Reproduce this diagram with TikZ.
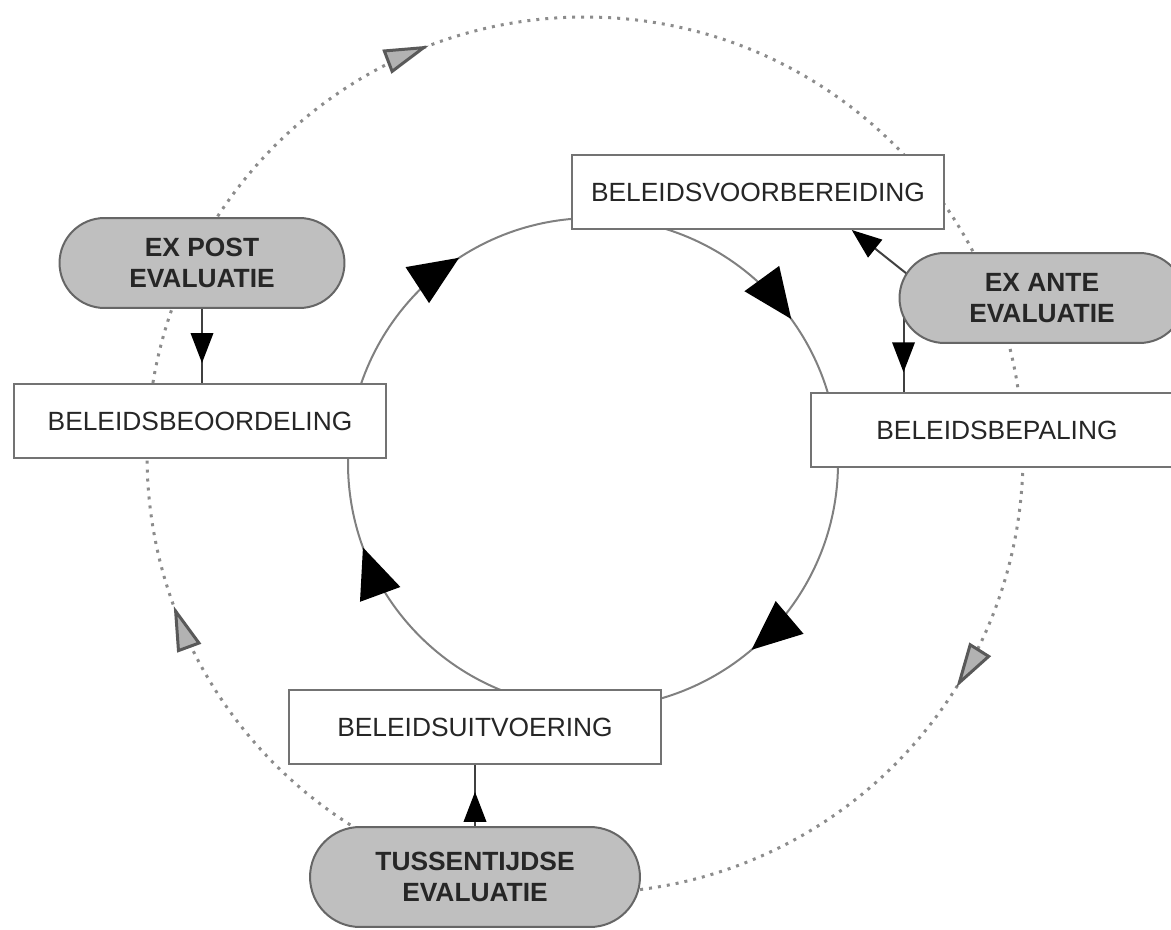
\documentclass[tikz,border=0pt]{standalone}
\usepackage{fontspec}
\setmainfont{Liberation Sans}
\usetikzlibrary{arrows.meta,decorations.markings,backgrounds,calc}

\tikzset{
  stap/.style={draw=black!55, line width=0.04cm, fill=white, text=black!85,
    minimum width=7.46cm, minimum height=1.48cm, font=\fontsize{15}{17}\selectfont},
  evaluatie/.style={draw=black!60, line width=0.04cm, fill=black!25, text=black!85,
    rounded corners=0.9cm, minimum width=5.7cm, minimum height=1.8cm, align=center,
    font=\bfseries\fontsize{15}{17.5}\selectfont},
  cyclus/.style={draw=black!50, line width=0.04cm, postaction={decorate},
    decoration={markings,
      mark=at position 0.138 with {\arrow{Triangle[length=1cm,width=0.85cm,color=black]}},
      mark=at position 0.444 with {\arrow{Triangle[length=1cm,width=0.85cm,color=black]}},
      mark=at position 0.658 with {\arrow{Triangle[length=1cm,width=0.85cm,color=black]}},
      mark=at position 0.900 with {\arrow{Triangle[length=1cm,width=0.85cm,color=black]}}}},
  buitencirkel/.style={draw=black!45, line width=0.06cm, dash pattern=on 0.06cm off 0.12cm,
    postaction={decorate},
    decoration={markings,
      mark=at position 0.089 with {\arrow{Triangle[length=0.9cm,width=0.5cm,color=black!65,fill=black!30]}},
      mark=at position 0.444 with {\arrow{Triangle[length=0.9cm,width=0.5cm,color=black!65,fill=black!30]}},
      mark=at position 0.692 with {\arrow{Triangle[length=0.9cm,width=0.5cm,color=black!65,fill=black!30]}}}},
  verbinding/.style={draw=black!75, line width=0.04cm},
  pijlmidden/.style={postaction={decorate},
    decoration={markings, mark=at position #1 with {\arrow{Triangle[length=0.6cm,width=0.45cm,color=black]}}}},
}

\begin{document}
\begin{tikzpicture}[x=0.02cm,y=0.02cm]
\useasboundingbox (0,0) rectangle (1171,-930);
\coordinate (M) at (593,-463);% midden cyclus
\coordinate (O) at (585,-455);% midden evaluatie

\node[stap] (voorb) at (758,-192) {BELEIDSVOORBEREIDING};
\node[stap] (bepal) at (997,-430) {BELEIDSBEPALING};
\node[stap] (uitv) at (475,-727) {BELEIDSUITVOERING};
\node[stap] (beoord) at (200,-421) {BELEIDSBEOORDELING};

\node[evaluatie] (exante) at (1042,-298) {EX ANTE\\EVALUATIE};
\node[evaluatie] (expost) at (202,-263) {EX POST\\EVALUATIE};
\node[evaluatie, minimum width=6.6cm, minimum height=2cm, rounded corners=1cm] (tussen) at (475,-877) {TUSSENTIJDSE\\EVALUATIE};

\begin{pgfonlayer}{background}
\draw[buitencirkel] (O) ++(0:438) arc[start angle=0, end angle=-360, radius=438];
\draw[cyclus] (M) ++(0:245) arc[start angle=0, end angle=-360, radius=245];

\draw[verbinding, -{Triangle[length=0.6cm,width=0.45cm,color=black]}]
  ($(exante.west)+(45,-5)$) -- ($(voorb.south east)!0.25!(voorb.south west)$);
\draw[verbinding, pijlmidden=0.79] ([xshift=0.1cm]exante.west) -- ([xshift=0.1cm]exante.west |- bepal.north);
\draw[verbinding, pijlmidden=0.73] (expost.south) -- (expost.south |- beoord.north);
\draw[verbinding, pijlmidden=0.56] (tussen.north) -- (uitv.south);
\end{pgfonlayer}

\end{tikzpicture}
\end{document}
